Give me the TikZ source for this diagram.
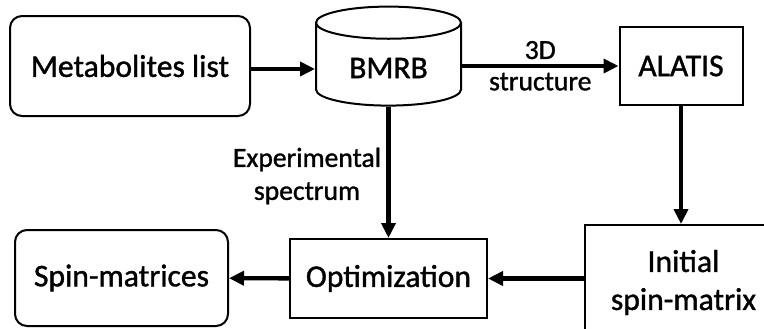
\documentclass[tikz,border=0pt]{standalone}
\usepackage{fontspec}
\setmainfont{Carlito}[FakeBold=1.2]
\usetikzlibrary{arrows.meta,shapes.geometric}
\tikzset{
  box/.style={draw,line width=1pt,align=center,font=\fontsize{15.8}{19}\selectfont},
  rbox/.style={box,rounded corners=6pt},
  db/.style={box,cylinder,shape border rotate=90,aspect=0.35,minimum width=72.5pt,minimum height=49.5pt},
  arr/.style={-{Triangle[length=7.5pt,width=7pt]},line width=2.2pt},
  lbl/.style={align=center,font=\fontsize{13.8}{16.5}\selectfont}
}

\begin{document}
\begin{tikzpicture}[x=.5pt,y=.5pt]
\useasboundingbox (0,0) rectangle (764,328);
\node[rbox,minimum width=120pt,minimum height=50pt] (meta) at (130,262) {Metabolites list};
\node[db] (bmrb) at (388.5,260) {BMRB};
\node[box,minimum width=61.5pt,minimum height=39pt] (alatis) at (681,262) {ALATIS};
\node[box,minimum width=98.5pt,minimum height=57.5pt] (init) at (683.5,45.5) {Initial\\spin-matrix};
\node[box,minimum width=98.5pt,minimum height=39.5pt] (opt) at (388.5,49.5) {Optimization};
\node[rbox,minimum width=106.5pt,minimum height=48pt] (spin) at (121.5,50) {Spin-matrices};
% connectors
\draw[arr] (meta.east |- 0,259) -- (bmrb.west |- 0,259);
\draw[arr] (bmrb.east |- alatis) -- (alatis) node[lbl,midway,above=-1pt] {3D} node[lbl,midway,below=-1pt] {structure};
\draw[arr] (alatis) -- (alatis |- init.north);
\draw[arr] (bmrb) -- (opt);
\draw[arr] (opt.east -| init.west) -- (opt.east);
\draw[arr] (opt) -- (spin);
\node[lbl] (exp) at (307,152) {Experimental\\spectrum};
\end{tikzpicture}
\end{document}
